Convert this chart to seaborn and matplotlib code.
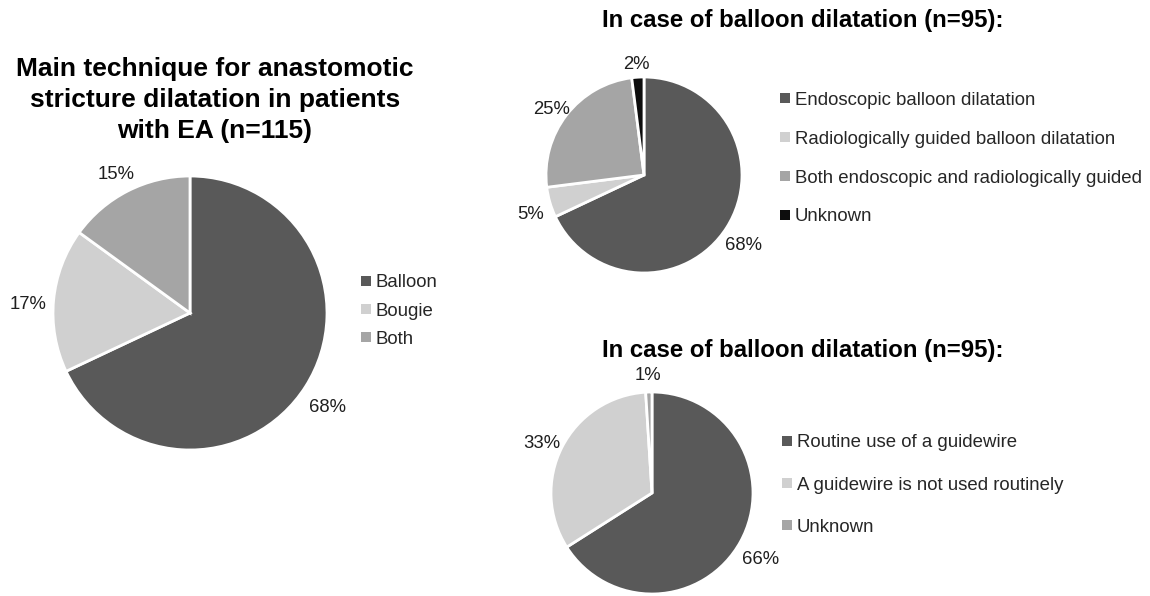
import matplotlib
matplotlib.use("Agg")
import matplotlib.pyplot as plt
from matplotlib.lines import Line2D
from matplotlib.transforms import offset_copy
import seaborn as sns

# main technique for anastomotic stricture dilatation (n=115)
technique_labels = ["Balloon", "Bougie", "Both"]
technique_pct = [68, 17, 15]

# balloon dilatation, type of guidance (n=95)
guidance_labels = ["Endoscopic balloon dilatation",
                   "Radiologically guided balloon dilatation",
                   "Both endoscopic and radiologically guided",
                   "Unknown"]
guidance_pct = [68, 5, 25, 2]

# balloon dilatation, guidewire use (n=95)
guidewire_labels = ["Routine use of a guidewire",
                    "A guidewire is not used routinely",
                    "Unknown"]
guidewire_pct = [66, 33, 1]

sns.set_theme(style="white")
plt.rcParams["font.family"] = ["Liberation Sans", "DejaVu Sans"]

dark, light, mid, black = "#595959", "#d0d0d0", "#a5a5a5", "#0d0d0d"

W, H = 1150, 596
fig = plt.figure(figsize=(W / 100, H / 100), dpi=100)


def px_axes(x, y, size):
    # x, y = top-left corner in pixels
    return fig.add_axes([x / W, 1 - (y + size) / H, size / W, size / H])


def draw_pie(ax, values, colors, labeldist, drop=7):
    wedges, texts = ax.pie(values, colors=colors, labels=[f"{v}%" for v in values],
                           startangle=90, counterclock=False, labeldistance=labeldist,
                           wedgeprops=dict(edgecolor="white", linewidth=2),
                           textprops=dict(fontsize=13.3, color="#1f1f1f",
                                          ha="center", va="center"))
    # excel-ish label placement sits a little lower than pure radial
    for t in texts:
        t.set_transform(offset_copy(ax.transData, fig=fig, x=0, y=-drop, units="dots"))
    ax.set_xlim(-1, 1)
    ax.set_ylim(-1, 1)
    ax.set_aspect("equal")
    ax.axis("off")


def add_legend(labels, colors, x_left, y_center, spacing):
    handles = [Line2D([], [], marker="s", linestyle="", markersize=6.5,
                      color=c, markeredgewidth=0) for c in colors]
    fig.legend(handles, labels, loc="center left",
               bbox_to_anchor=(x_left / W, 1 - y_center / H),
               frameon=False, fontsize=13.4, handlelength=0.7,
               handletextpad=0.2, labelspacing=spacing,
               borderpad=0, borderaxespad=0)


ax0 = px_axes(53, 176, 274)
draw_pie(ax0, technique_pct, [dark, light, mid], 1.19)
add_legend(technique_labels, [dark, light, mid], 359, 311, 0.6)
fig.text(215 / W, 1 - 57 / H,
         "Main technique for anastomotic\nstricture dilatation in patients\nwith EA (n=115)",
         ha="center", va="top", fontsize=19, fontweight="bold",
         color="black", linespacing=1.38)

ax1 = px_axes(546, 77, 196)
draw_pie(ax1, guidance_pct, [dark, light, mid, black], 1.2)
add_legend(guidance_labels, [dark, light, mid, black], 778, 158.5, 1.18)
fig.text(803 / W, 1 - 27 / H, "In case of balloon dilatation (n=95):",
         ha="center", va="baseline", fontsize=17.3, fontweight="bold", color="black")

ax2 = px_axes(551, 392, 202)
draw_pie(ax2, guidewire_pct, [dark, light, mid], 1.23)
add_legend(guidewire_labels, [dark, light, mid], 780, 485, 1.36)
fig.text(803 / W, 1 - 357 / H, "In case of balloon dilatation (n=95):",
         ha="center", va="baseline", fontsize=17.3, fontweight="bold", color="black")

fig.savefig("out.png", dpi=100)
